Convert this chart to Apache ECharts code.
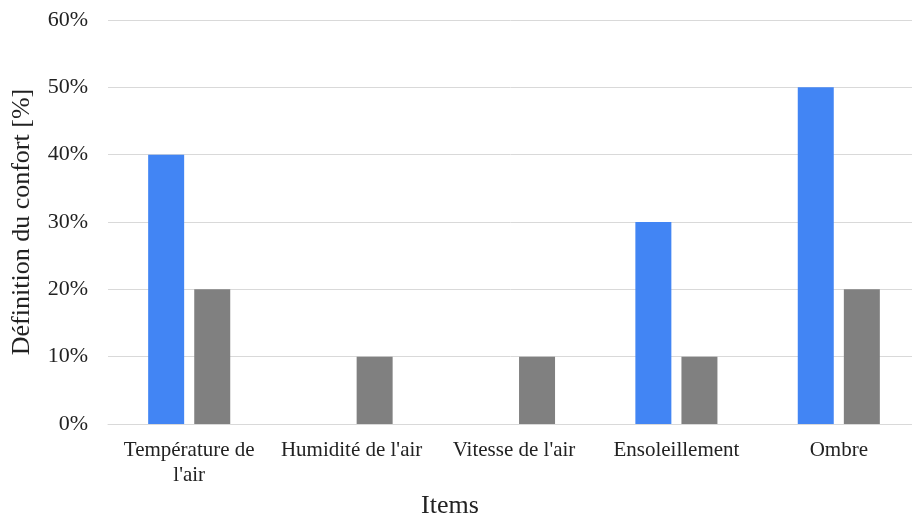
<!DOCTYPE html>
<html>
<head>
<meta charset="utf-8">
<script src="https://cdn.jsdelivr.net/npm/echarts@6/dist/echarts.min.js"></script>
<style>
  html, body { margin: 0; padding: 0; background: #fff; }
  #chart { width: 912px; height: 513px; }
</style>
</head>
<body>
<div id="chart"></div>
<script>
// catégories et valeurs (%)
const categories = ['Température de\nl\'air', 'Humidité de l\'air', 'Vitesse de l\'air', 'Ensoleillement', 'Ombre']
const blueValues = [40, 0, 0, 30, 50]
const grayValues = [20, 10, 10, 10, 20]

const chart = echarts.init(document.getElementById('chart'))
const font = 'Liberation Serif, Times New Roman, serif'

const option = {
  animation: false,
  grid: {
    left: 108,
    right: -8,
    top: 20,
    bottom: 89,
    containLabel: false,
    outerBoundsMode: 'none',
  },
  xAxis: {
    type: 'category',
    data: categories,
    name: 'Items',
    nameLocation: 'middle',
    nameGap: 63,
    // le titre "Items" est décalé vers la gauche dans l'original
    nameTextStyle: { fontFamily: font, fontSize: 26, color: '#222', padding: [0, 128, 0, 0] },
    axisLine: { lineStyle: { color: '#d9d9d9', width: 1 } },
    axisTick: { show: false },
    axisLabel: {
      fontFamily: font,
      fontSize: 21,
      color: '#222',
      margin: 14,
      lineHeight: 25,
      interval: 0,
    },
  },
  yAxis: {
    type: 'value',
    min: 0,
    max: 60,
    interval: 10,
    name: 'Définition du confort [%]',
    nameLocation: 'middle',
    nameGap: 73,
    nameTextStyle: { fontFamily: font, fontSize: 26, color: '#222' },
    axisLine: { show: false },
    axisTick: { show: false },
    axisLabel: {
      fontFamily: font,
      fontSize: 22,
      color: '#222',
      margin: 20,
      formatter: '{value}%',
    },
    splitLine: { lineStyle: { color: '#d9d9d9', width: 1 } },
  },
  series: [
    {
      type: 'bar',
      data: blueValues,
      barWidth: 36,
      barGap: '28%',
      itemStyle: { color: '#4285f4' },
    },
    {
      type: 'bar',
      data: grayValues,
      barWidth: 36,
      itemStyle: { color: '#808080' },
    },
  ],
}

chart.setOption(option)
</script>
</body>
</html>
